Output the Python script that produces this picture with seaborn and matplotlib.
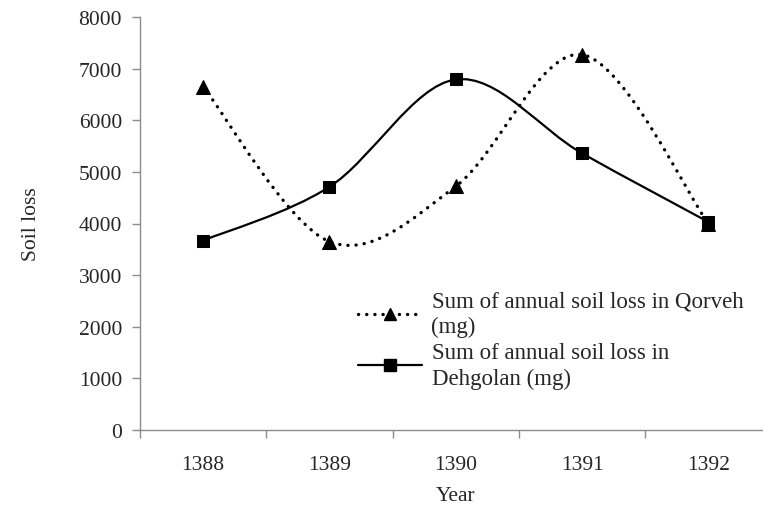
import numpy as np
import matplotlib
matplotlib.use("Agg")
import matplotlib.pyplot as plt
import seaborn as sns
import pandas as pd
from matplotlib.path import Path
from matplotlib.patches import PathPatch
from matplotlib.lines import Line2D

years = ["1388", "1389", "1390", "1391", "1392"]
qorveh = [6650, 3650, 4720, 7270, 4000]
dehgolan = [3670, 4710, 6790, 5360, 4030]
label_q = "Sum of annual soil loss in Qorveh\n(mg)"
label_d = "Sum of annual soil loss in\nDehgolan (mg)"

sns.set_theme(style="white")
plt.rcParams["font.family"] = ["Liberation Serif", "DejaVu Serif"]

df = pd.DataFrame({"Year": years, "Qorveh": qorveh, "Dehgolan": dehgolan})
df["pos"] = np.arange(len(years))


def smooth_path(x, y):
    # Excel-style smoothed line: Catmull-Rom segments drawn as cubic Beziers
    x = np.asarray(x, float)
    y = np.asarray(y, float)
    n = len(x)
    verts = [(x[0], y[0])]
    codes = [Path.MOVETO]
    for i in range(n - 1):
        p0 = i - 1 if i > 0 else i
        p3 = i + 2 if i + 2 < n else i + 1
        c1 = (x[i] + (x[i + 1] - x[p0]) / 6, y[i] + (y[i + 1] - y[p0]) / 6)
        c2 = (x[i + 1] - (x[p3] - x[i]) / 6, y[i + 1] - (y[p3] - y[i]) / 6)
        verts += [c1, c2, (x[i + 1], y[i + 1])]
        codes += [Path.CURVE4] * 3
    return Path(verts, codes)


dotted = (0, (0.05, 2.4))

fig = plt.figure(figsize=(7.63, 5.06), dpi=100)
W, H = 763, 506
ax = fig.add_axes([140 / W, (H - 431) / H, 631.5 / W, 413 / H])

ax.add_patch(PathPatch(smooth_path(df["pos"], df["Qorveh"]), fill=False,
                       lw=2.4, ls=dotted, color="black", capstyle="round"))
ax.add_patch(PathPatch(smooth_path(df["pos"], df["Dehgolan"]), fill=False,
                       lw=1.6, color="black"))

sns.lineplot(data=df, x="pos", y="Qorveh", marker="^", markersize=10, linestyle="",
             color="black", markeredgecolor="black", ax=ax)
sns.lineplot(data=df, x="pos", y="Dehgolan", marker="s", markersize=9, linestyle="",
             color="black", markeredgecolor="black", ax=ax)

ax.set_xlim(-0.5, 4.5)
ax.set_ylim(0, 8000)
ax.set_yticks(np.arange(0, 8001, 1000))
ax.set_xticks(df["pos"])
ax.set_xticklabels(years)
ax.set_xticks(np.arange(-0.5, 4.6, 1), minor=True)

for s in ["top", "right"]:
    ax.spines[s].set_visible(False)
for s in ["left", "bottom"]:
    ax.spines[s].set_color("#8c8c8c")
    ax.spines[s].set_linewidth(1.0)

ax.tick_params(axis="y", which="major", direction="out", length=6, color="#8c8c8c",
               width=1.0, left=True, labelsize=15.5, pad=7)
ax.tick_params(axis="x", which="major", length=0, labelsize=15.5, pad=18)
ax.tick_params(axis="x", which="minor", direction="out", length=6, color="#8c8c8c",
               width=1.0, bottom=True)

ax.set_xlabel("Year", fontsize=15.5, labelpad=9)
ax.set_ylabel("Soil loss", fontsize=15.5, labelpad=27)

handles = [
    Line2D([], [], color="black", lw=2.4, ls=dotted, marker="^", markersize=9,
           dash_capstyle="round"),
    Line2D([], [], color="black", lw=1.6, marker="s", markersize=8),
]
leg = ax.legend(handles, [label_q, label_d], loc="upper left",
                bbox_to_anchor=(349 / W, 1 - 282 / H), bbox_transform=fig.transFigure,
                frameon=False, fontsize=16.5, handlelength=2.8, handletextpad=0.4,
                labelspacing=0.2, borderaxespad=0)
for t in leg.get_texts():
    t.set_linespacing(1.3)

fig.savefig("out.png", dpi=100)
